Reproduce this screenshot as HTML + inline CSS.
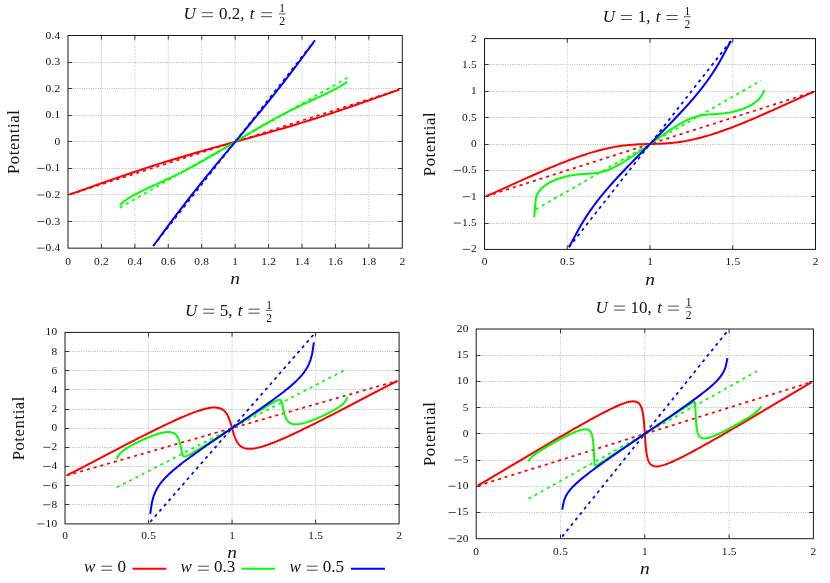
<!DOCTYPE html>
<html><head><meta charset="utf-8"><title>Potential vs n</title>
<style>html,body{margin:0;padding:0;background:#fff;width:830px;height:583px;overflow:hidden;font-family:"Liberation Serif",serif}svg{will-change:transform}svg text{font-family:"Liberation Serif",serif}</style>
</head><body>
<svg width="830" height="583" viewBox="0 0 830 583" style="display:block;position:absolute;left:0;top:0">
<rect width="830" height="583" fill="#fff"/>
<g>
<path d="M68.00 62.50H402.30M68.00 88.50H402.30M68.00 115.50H402.30M68.00 141.50H402.30M68.00 168.50H402.30M68.00 194.50H402.30M68.00 221.50H402.30" stroke="#b0b0b0" stroke-width="0.9" stroke-dasharray="1 1.3" fill="none"/>
<path d="M101.43 35.50V248.15M134.86 35.50V248.15M168.29 35.50V248.15M201.72 35.50V248.15M235.15 35.50V248.15M268.58 35.50V248.15M302.01 35.50V248.15M335.44 35.50V248.15M368.87 35.50V248.15" stroke="#bcbcbc" stroke-width="0.9" stroke-dasharray="1 1.3" fill="none"/>
<path d="M68.00 62.50h4.2M402.30 62.50h-4.2M68.00 88.50h4.2M402.30 88.50h-4.2M68.00 115.50h4.2M402.30 115.50h-4.2M68.00 141.50h4.2M402.30 141.50h-4.2M68.00 168.50h4.2M402.30 168.50h-4.2M68.00 194.50h4.2M402.30 194.50h-4.2M68.00 221.50h4.2M402.30 221.50h-4.2M101.43 35.50v4.2M101.43 248.15v-4.2M134.86 35.50v4.2M134.86 248.15v-4.2M168.29 35.50v4.2M168.29 248.15v-4.2M201.72 35.50v4.2M201.72 248.15v-4.2M235.15 35.50v4.2M235.15 248.15v-4.2M268.58 35.50v4.2M268.58 248.15v-4.2M302.01 35.50v4.2M302.01 248.15v-4.2M335.44 35.50v4.2M335.44 248.15v-4.2M368.87 35.50v4.2M368.87 248.15v-4.2" stroke="#222" stroke-width="0.9" fill="none"/>
<clipPath id="c1"><rect x="68.00" y="34.50" width="334.30" height="214.65"/></clipPath>
<g clip-path="url(#c1)" fill="none" stroke-linejoin="round">
<path d="M69.67 194.46L400.29 89.30" stroke="#ff0000" stroke-width="1.75" stroke-dasharray="3.1 3.9"/>
<path d="M119.82 207.70L347.47 77.67" stroke="#00ff00" stroke-width="1.75" stroke-dasharray="3.1 3.9"/>
<path d="M153.25 246.02L315.05 40.18" stroke="#0000ff" stroke-width="1.75" stroke-dasharray="3.1 3.9"/>
<path d="M69.67 194.44L71.34 193.88L73.01 193.30L74.69 192.73L76.36 192.15L78.03 191.57L79.70 190.98L81.37 190.39L83.04 189.80L84.72 189.21L86.39 188.62L88.06 188.03L89.73 187.44L91.40 186.84L93.07 186.25L94.74 185.66L96.42 185.06L98.09 184.47L99.76 183.88L101.43 183.29L103.10 182.70L104.77 182.11L106.44 181.52L108.12 180.93L109.79 180.35L111.46 179.76L113.13 179.18L114.80 178.60L116.47 178.02L118.15 177.44L119.82 176.86L121.49 176.29L123.16 175.71L124.83 175.14L126.50 174.57L128.17 174.00L129.85 173.44L131.52 172.87L133.19 172.31L134.86 171.75L136.53 171.19L138.20 170.63L139.87 170.08L141.55 169.53L143.22 168.98L144.89 168.43L146.56 167.88L148.23 167.34L149.90 166.80L151.57 166.26L153.25 165.72L154.92 165.19L156.59 164.66L158.26 164.13L159.93 163.60L161.60 163.08L163.28 162.55L164.95 162.03L166.62 161.52L168.29 161.00L169.96 160.49L171.63 159.98L173.30 159.47L174.98 158.96L176.65 158.45L178.32 157.95L179.99 157.45L181.66 156.95L183.33 156.46L185.00 155.96L186.68 155.47L188.35 154.98L190.02 154.49L191.69 154.01L193.36 153.52L195.03 153.04L196.71 152.56L198.38 152.08L200.05 151.60L201.72 151.12L203.39 150.65L205.06 150.18L206.73 149.71L208.41 149.23L210.08 148.77L211.75 148.30L213.42 147.83L215.09 147.36L216.76 146.90L218.44 146.43L220.11 145.97L221.78 145.51L223.45 145.05L225.12 144.59L225.29 144.54L225.46 144.49L225.62 144.45L225.79 144.40L225.96 144.36L226.12 144.31L226.29 144.26L226.46 144.22L226.63 144.17L226.79 144.12L226.96 144.08L227.13 144.03L227.29 143.99L227.46 143.94L227.63 143.89L227.80 143.85L227.96 143.80L228.13 143.76L228.30 143.71L228.46 143.66L228.63 143.62L228.80 143.57L228.97 143.53L229.13 143.48L229.30 143.43L229.47 143.39L229.63 143.34L229.80 143.30L229.97 143.25L230.14 143.20L230.30 143.16L230.47 143.11L230.64 143.07L230.80 143.02L230.97 142.97L231.14 142.93L231.31 142.88L231.47 142.84L231.64 142.79L231.81 142.74L231.97 142.70L232.14 142.65L232.31 142.61L232.48 142.56L232.64 142.51L232.81 142.47L232.98 142.42L233.14 142.38L233.31 142.33L233.48 142.28L233.65 142.24L233.81 142.19L233.98 142.15L234.15 142.10L234.31 142.05L234.48 142.01L234.65 141.96L234.82 141.92L234.98 141.87L235.15 141.83L235.32 141.78L235.48 141.73L235.65 141.69L235.82 141.64L235.99 141.60L236.15 141.55L236.32 141.50L236.49 141.46L236.65 141.41L236.82 141.37L236.99 141.32L237.16 141.27L237.32 141.23L237.49 141.18L237.66 141.14L237.82 141.09L237.99 141.04L238.16 141.00L238.33 140.95L238.49 140.91L238.66 140.86L238.83 140.81L238.99 140.77L239.16 140.72L239.33 140.68L239.50 140.63L239.66 140.58L239.83 140.54L240.00 140.49L240.16 140.45L240.33 140.40L240.50 140.35L240.67 140.31L240.83 140.26L241.00 140.22L241.17 140.17L241.33 140.12L241.50 140.08L241.67 140.03L241.84 139.99L242.00 139.94L242.17 139.89L242.34 139.85L242.50 139.80L242.67 139.76L242.84 139.71L243.01 139.66L243.17 139.62L243.34 139.57L243.51 139.53L243.67 139.48L243.84 139.43L244.01 139.39L244.18 139.34L244.34 139.29L244.51 139.25L244.68 139.20L244.84 139.16L245.01 139.11L245.18 139.06L246.85 138.60L248.52 138.14L250.19 137.68L251.87 137.22L253.54 136.75L255.21 136.29L256.88 135.82L258.55 135.35L260.22 134.88L261.89 134.42L263.57 133.94L265.24 133.47L266.91 133.00L268.58 132.53L270.25 132.05L271.92 131.57L273.59 131.09L275.27 130.61L276.94 130.13L278.61 129.64L280.28 129.16L281.95 128.67L283.62 128.18L285.30 127.69L286.97 127.19L288.64 126.70L290.31 126.20L291.98 125.70L293.65 125.20L295.32 124.69L297.00 124.18L298.67 123.67L300.34 123.16L302.01 122.65L303.68 122.13L305.35 121.62L307.02 121.10L308.70 120.57L310.37 120.05L312.04 119.52L313.71 118.99L315.38 118.46L317.05 117.93L318.73 117.39L320.40 116.85L322.07 116.31L323.74 115.77L325.41 115.22L327.08 114.67L328.75 114.12L330.43 113.57L332.10 113.02L333.77 112.46L335.44 111.90L337.11 111.34L338.78 110.78L340.45 110.21L342.13 109.65L343.80 109.08L345.47 108.51L347.14 107.94L348.81 107.36L350.48 106.79L352.16 106.21L353.83 105.63L355.50 105.05L357.17 104.47L358.84 103.89L360.51 103.30L362.18 102.72L363.86 102.13L365.53 101.54L367.20 100.95L368.87 100.36L370.54 99.77L372.21 99.18L373.88 98.59L375.56 97.99L377.23 97.40L378.90 96.81L380.57 96.21L382.24 95.62L383.91 95.03L385.58 94.44L387.26 93.85L388.93 93.26L390.60 92.67L392.27 92.08L393.94 91.50L395.61 90.92L397.29 90.35L398.96 89.77" stroke="#ff0000" stroke-width="2"/>
<path d="M119.82 205.24L121.49 203.46L123.16 202.00L124.83 200.71L126.50 199.53L128.17 198.44L129.85 197.41L131.52 196.43L133.19 195.49L134.86 194.58L136.53 193.70L138.20 192.84L139.87 192.01L141.55 191.19L143.22 190.38L144.89 189.58L146.56 188.80L148.23 188.01L149.90 187.24L151.57 186.47L153.25 185.70L154.92 184.93L156.59 184.17L158.26 183.40L159.93 182.63L161.60 181.86L163.28 181.09L164.95 180.31L166.62 179.53L168.29 178.74L169.96 177.95L171.63 177.15L173.30 176.35L174.98 175.54L175.14 175.46L175.31 175.37L175.48 175.29L175.64 175.21L175.81 175.13L175.98 175.05L176.15 174.97L176.31 174.88L176.48 174.80L176.65 174.72L176.81 174.64L176.98 174.55L177.15 174.47L177.32 174.39L177.48 174.31L177.65 174.22L177.82 174.14L177.98 174.06L178.15 173.98L178.32 173.89L178.49 173.81L178.65 173.73L178.82 173.65L178.99 173.56L179.15 173.48L179.32 173.40L179.49 173.31L179.66 173.23L179.82 173.15L179.99 173.06L180.16 172.98L180.32 172.89L180.49 172.81L180.66 172.73L180.83 172.64L180.99 172.56L181.16 172.47L181.33 172.39L181.49 172.31L181.66 172.22L181.83 172.14L182.00 172.05L182.16 171.97L182.33 171.88L182.50 171.80L182.66 171.71L182.83 171.63L183.00 171.54L183.17 171.46L183.33 171.37L183.50 171.29L183.67 171.20L183.83 171.12L184.00 171.03L184.17 170.95L184.34 170.86L184.50 170.78L184.67 170.69L184.84 170.60L185.00 170.52L185.17 170.43L185.34 170.35L185.51 170.26L185.67 170.17L185.84 170.09L186.01 170.00L186.18 169.91L186.34 169.83L186.51 169.74L186.68 169.65L186.84 169.57L187.01 169.48L187.18 169.39L187.35 169.31L187.51 169.22L187.68 169.13L187.85 169.05L188.01 168.96L188.18 168.87L188.35 168.78L188.52 168.70L188.68 168.61L188.85 168.52L189.02 168.43L189.18 168.34L189.35 168.26L189.52 168.17L189.69 168.08L189.85 167.99L190.02 167.90L190.19 167.81L190.35 167.73L190.52 167.64L190.69 167.55L190.86 167.46L191.02 167.37L191.19 167.28L191.36 167.19L191.52 167.10L191.69 167.02L191.86 166.93L192.03 166.84L192.19 166.75L192.36 166.66L192.53 166.57L192.69 166.48L192.86 166.39L193.03 166.30L193.20 166.21L193.36 166.12L193.53 166.03L193.70 165.94L193.86 165.85L194.03 165.76L194.20 165.67L194.37 165.58L194.53 165.49L194.70 165.40L194.87 165.31L195.03 165.22L196.71 164.31L198.38 163.39L200.05 162.46L201.72 161.53L203.39 160.59L205.06 159.64L206.73 158.69L208.41 157.73L210.08 156.77L211.75 155.80L213.42 154.82L215.09 153.84L216.76 152.86L218.44 151.87L220.11 150.87L221.78 149.88L223.45 148.88L225.12 147.88L226.79 146.87L228.46 145.86L230.14 144.86L231.81 143.85L233.48 142.84L235.15 141.83L236.82 140.81L238.49 139.80L240.16 138.79L241.84 137.79L243.51 136.78L245.18 135.77L246.85 134.77L248.52 133.77L250.19 132.78L251.87 131.78L253.54 130.79L255.21 129.81L256.88 128.83L258.55 127.85L260.22 126.88L261.89 125.92L263.57 124.96L265.24 124.01L266.91 123.06L268.58 122.12L270.25 121.19L271.92 120.26L273.59 119.34L275.27 118.43L275.43 118.34L275.60 118.25L275.77 118.16L275.93 118.07L276.10 117.98L276.27 117.89L276.44 117.80L276.60 117.71L276.77 117.62L276.94 117.53L277.10 117.44L277.27 117.35L277.44 117.26L277.61 117.17L277.77 117.08L277.94 116.99L278.11 116.90L278.27 116.81L278.44 116.72L278.61 116.63L278.78 116.55L278.94 116.46L279.11 116.37L279.28 116.28L279.44 116.19L279.61 116.10L279.78 116.01L279.95 115.92L280.11 115.84L280.28 115.75L280.45 115.66L280.61 115.57L280.78 115.48L280.95 115.39L281.12 115.31L281.28 115.22L281.45 115.13L281.62 115.04L281.78 114.95L281.95 114.87L282.12 114.78L282.29 114.69L282.45 114.60L282.62 114.52L282.79 114.43L282.95 114.34L283.12 114.26L283.29 114.17L283.46 114.08L283.62 114.00L283.79 113.91L283.96 113.82L284.12 113.74L284.29 113.65L284.46 113.56L284.63 113.48L284.79 113.39L284.96 113.30L285.13 113.22L285.30 113.13L285.46 113.05L285.63 112.96L285.80 112.87L285.96 112.79L286.13 112.70L286.30 112.62L286.47 112.53L286.63 112.45L286.80 112.36L286.97 112.28L287.13 112.19L287.30 112.11L287.47 112.02L287.64 111.94L287.80 111.85L287.97 111.77L288.14 111.68L288.30 111.60L288.47 111.51L288.64 111.43L288.81 111.34L288.97 111.26L289.14 111.18L289.31 111.09L289.47 111.01L289.64 110.92L289.81 110.84L289.98 110.76L290.14 110.67L290.31 110.59L290.48 110.50L290.64 110.42L290.81 110.34L290.98 110.25L291.15 110.17L291.31 110.09L291.48 110.00L291.65 109.92L291.81 109.84L291.98 109.76L292.15 109.67L292.32 109.59L292.48 109.51L292.65 109.43L292.82 109.34L292.98 109.26L293.15 109.18L293.32 109.10L293.49 109.01L293.65 108.93L293.82 108.85L293.99 108.77L294.15 108.68L294.32 108.60L294.49 108.52L294.66 108.44L294.82 108.36L294.99 108.28L295.16 108.19L295.32 108.11L297.00 107.30L298.67 106.50L300.34 105.70L302.01 104.91L303.68 104.12L305.35 103.34L307.02 102.56L308.70 101.79L310.37 101.02L312.04 100.25L313.71 99.48L315.38 98.72L317.05 97.95L318.73 97.18L320.40 96.41L322.07 95.64L323.74 94.85L325.41 94.07L327.08 93.27L328.75 92.46L330.43 91.64L332.10 90.81L333.77 89.95L335.44 89.07L337.11 88.16L338.78 87.22L340.45 86.24L342.13 85.21L343.80 84.12L345.47 82.94L347.14 81.65" stroke="#00ff00" stroke-width="2"/>
<path d="M153.25 245.97L154.92 243.75L156.59 241.50L158.26 239.25L159.93 236.98L161.60 234.71L163.28 232.44L164.95 230.17L166.62 227.91L168.29 225.65L169.96 223.40L171.63 221.15L173.30 218.91L174.98 216.69L176.65 214.47L178.32 212.26L179.99 210.06L181.66 207.88L183.33 205.70L185.00 203.53L186.68 201.38L188.35 199.23L190.02 197.09L191.69 194.96L193.36 192.84L195.03 190.73L196.71 188.63L198.38 186.54L200.05 184.45L201.72 182.37L203.39 180.30L205.06 178.24L206.73 176.18L208.41 174.13L210.08 172.08L211.75 170.04L213.42 168.00L215.09 165.97L216.76 163.94L218.44 161.92L220.11 159.90L221.78 157.89L223.45 155.87L225.12 153.86L226.79 151.85L228.46 149.84L230.14 147.84L231.81 145.83L233.48 143.83L235.15 141.83L236.82 139.82L238.49 137.82L240.16 135.81L241.84 133.81L243.51 131.80L245.18 129.79L246.85 127.78L248.52 125.76L250.19 123.75L251.87 121.73L253.54 119.71L255.21 117.68L256.88 115.65L258.55 113.61L260.22 111.57L261.89 109.52L263.57 107.47L265.24 105.41L266.91 103.35L268.58 101.28L270.25 99.20L271.92 97.11L273.59 95.02L275.27 92.92L276.94 90.81L278.61 88.69L280.28 86.56L281.95 84.42L283.62 82.27L285.30 80.12L286.97 77.95L288.64 75.77L290.31 73.59L291.98 71.39L293.65 69.18L295.32 66.96L297.00 64.74L298.67 62.50L300.34 60.25L302.01 58.00L303.68 55.74L305.35 53.48L307.02 51.21L308.70 48.94L310.37 46.67L312.04 44.40L313.71 42.15" stroke="#0000ff" stroke-width="2"/>
</g>
<rect x="68.00" y="35.50" width="334.30" height="212.65" fill="none" stroke="#1a1a1a" stroke-width="1"/>
<text x="60.45" y="38.50" font-size="11.4" letter-spacing="0.25" text-anchor="end" fill="#111">0.4</text>
<text x="60.45" y="65.08" font-size="11.4" letter-spacing="0.25" text-anchor="end" fill="#111">0.3</text>
<text x="60.45" y="91.66" font-size="11.4" letter-spacing="0.25" text-anchor="end" fill="#111">0.2</text>
<text x="60.45" y="118.24" font-size="11.4" letter-spacing="0.25" text-anchor="end" fill="#111">0.1</text>
<text x="60.45" y="144.82" font-size="11.4" letter-spacing="0.25" text-anchor="end" fill="#111">0</text>
<text x="60.45" y="171.41" font-size="11.4" letter-spacing="0.25" text-anchor="end" fill="#111">0.1</text>
<path d="M44.45 168.41h-7.2" stroke="#222" stroke-width="0.8" fill="none"/>
<text x="60.45" y="197.99" font-size="11.4" letter-spacing="0.25" text-anchor="end" fill="#111">0.2</text>
<path d="M44.45 194.99h-7.2" stroke="#222" stroke-width="0.8" fill="none"/>
<text x="60.45" y="224.57" font-size="11.4" letter-spacing="0.25" text-anchor="end" fill="#111">0.3</text>
<path d="M44.45 221.57h-7.2" stroke="#222" stroke-width="0.8" fill="none"/>
<text x="60.45" y="251.15" font-size="11.4" letter-spacing="0.25" text-anchor="end" fill="#111">0.4</text>
<path d="M44.45 248.15h-7.2" stroke="#222" stroke-width="0.8" fill="none"/>
<text x="68.12" y="264.75" font-size="11.4" letter-spacing="0.25" text-anchor="middle" fill="#111">0</text>
<text x="101.56" y="264.75" font-size="11.4" letter-spacing="0.25" text-anchor="middle" fill="#111">0.2</text>
<text x="134.99" y="264.75" font-size="11.4" letter-spacing="0.25" text-anchor="middle" fill="#111">0.4</text>
<text x="168.42" y="264.75" font-size="11.4" letter-spacing="0.25" text-anchor="middle" fill="#111">0.6</text>
<text x="201.84" y="264.75" font-size="11.4" letter-spacing="0.25" text-anchor="middle" fill="#111">0.8</text>
<text x="235.28" y="264.75" font-size="11.4" letter-spacing="0.25" text-anchor="middle" fill="#111">1</text>
<text x="268.71" y="264.75" font-size="11.4" letter-spacing="0.25" text-anchor="middle" fill="#111">1.2</text>
<text x="302.13" y="264.75" font-size="11.4" letter-spacing="0.25" text-anchor="middle" fill="#111">1.4</text>
<text x="335.56" y="264.75" font-size="11.4" letter-spacing="0.25" text-anchor="middle" fill="#111">1.6</text>
<text x="369.00" y="264.75" font-size="11.4" letter-spacing="0.25" text-anchor="middle" fill="#111">1.8</text>
<text x="402.43" y="264.75" font-size="11.4" letter-spacing="0.25" text-anchor="middle" fill="#111">2</text>
<text transform="translate(235.15 283.55) scale(1.16 1)" font-size="16.8" font-style="italic" text-anchor="middle" fill="#111">n</text>
<text transform="translate(18.60 141.82) rotate(-90)" font-size="16.6" text-anchor="middle" fill="#111" letter-spacing="0.6">Potential</text>
<text x="183.50" y="19.20" font-size="17" font-style="italic" fill="#111">U</text>
<path d="M201.90 12.70h11M201.90 16.70h11" stroke="#222" stroke-width="0.8" fill="none"/>
<text x="219.00" y="19.20" font-size="17" fill="#111">0.2,</text>
<text x="249.80" y="19.20" font-size="17" font-style="italic" fill="#111">t</text>
<path d="M261.10 12.70h11M261.10 16.70h11" stroke="#222" stroke-width="0.8" fill="none"/>
<text x="282.20" y="12.30" font-size="11.5" text-anchor="middle" fill="#111">1</text>
<text x="282.20" y="25.20" font-size="11.5" text-anchor="middle" fill="#111">2</text>
<path d="M278.90 13.90h6.6" stroke="#111" stroke-width="0.7"/>
</g>
<g>
<path d="M484.50 64.50H815.50M484.50 91.50H815.50M484.50 117.50H815.50M484.50 144.50H815.50M484.50 170.50H815.50M484.50 196.50H815.50M484.50 223.50H815.50" stroke="#b0b0b0" stroke-width="0.9" stroke-dasharray="1 1.3" fill="none"/>
<path d="M567.25 38.60V249.40M650.00 38.60V249.40M732.75 38.60V249.40" stroke="#bcbcbc" stroke-width="0.9" stroke-dasharray="1 1.3" fill="none"/>
<path d="M484.50 64.50h4.2M815.50 64.50h-4.2M484.50 91.50h4.2M815.50 91.50h-4.2M484.50 117.50h4.2M815.50 117.50h-4.2M484.50 144.50h4.2M815.50 144.50h-4.2M484.50 170.50h4.2M815.50 170.50h-4.2M484.50 196.50h4.2M815.50 196.50h-4.2M484.50 223.50h4.2M815.50 223.50h-4.2M567.25 38.60v4.2M567.25 249.40v-4.2M650.00 38.60v4.2M650.00 249.40v-4.2M732.75 38.60v4.2M732.75 249.40v-4.2" stroke="#222" stroke-width="0.9" fill="none"/>
<clipPath id="c2"><rect x="484.50" y="37.60" width="331.00" height="212.80"/></clipPath>
<g clip-path="url(#c2)" fill="none" stroke-linejoin="round">
<path d="M486.15 196.17L813.85 91.83" stroke="#ff0000" stroke-width="1.75" stroke-dasharray="3.1 3.9"/>
<path d="M535.80 209.30L761.22 80.40" stroke="#00ff00" stroke-width="1.75" stroke-dasharray="3.1 3.9"/>
<path d="M568.90 247.29L731.10 40.71" stroke="#0000ff" stroke-width="1.75" stroke-dasharray="3.1 3.9"/>
<path d="M486.15 196.09L487.81 195.44L489.46 194.76L491.12 194.06L492.77 193.35L494.43 192.63L496.08 191.90L497.74 191.17L499.39 190.43L501.05 189.69L502.70 188.95L504.36 188.20L506.01 187.45L507.67 186.70L509.32 185.95L510.98 185.20L512.63 184.44L514.29 183.69L515.95 182.94L517.60 182.19L519.25 181.43L520.91 180.68L522.57 179.94L524.22 179.19L525.88 178.44L527.53 177.70L529.18 176.96L530.84 176.22L532.50 175.48L534.15 174.75L535.80 174.02L537.46 173.29L539.12 172.56L540.77 171.84L542.42 171.13L544.08 170.41L545.74 169.70L547.39 169.00L549.04 168.29L550.70 167.60L552.36 166.91L554.01 166.22L555.66 165.54L557.32 164.86L558.98 164.19L560.63 163.53L562.28 162.87L563.94 162.22L565.60 161.57L567.25 160.93L568.90 160.30L570.56 159.68L572.22 159.06L573.87 158.46L575.52 157.86L577.18 157.27L578.84 156.68L580.49 156.11L582.14 155.55L583.80 154.99L585.46 154.45L587.11 153.92L588.76 153.40L590.42 152.89L592.08 152.39L593.73 151.90L595.38 151.43L597.04 150.96L598.69 150.51L600.35 150.08L602.00 149.66L603.66 149.25L605.32 148.86L606.97 148.48L608.62 148.12L610.28 147.77L611.93 147.44L613.59 147.13L615.25 146.83L616.90 146.55L618.56 146.29L620.21 146.04L621.87 145.81L623.52 145.59L625.17 145.40L626.83 145.21L628.49 145.05L630.14 144.90L631.80 144.76L633.45 144.64L635.11 144.54L636.76 144.44L638.41 144.36L640.07 144.29L640.24 144.28L640.40 144.28L640.57 144.27L640.73 144.26L640.90 144.26L641.06 144.25L641.23 144.24L641.39 144.24L641.56 144.23L641.73 144.23L641.89 144.22L642.06 144.21L642.22 144.21L642.39 144.20L642.55 144.20L642.72 144.19L642.88 144.19L643.05 144.18L643.21 144.18L643.38 144.17L643.55 144.17L643.71 144.16L643.88 144.16L644.04 144.15L644.21 144.15L644.37 144.14L644.54 144.14L644.70 144.13L644.87 144.13L645.03 144.12L645.20 144.12L645.37 144.11L645.53 144.11L645.70 144.10L645.86 144.10L646.03 144.10L646.19 144.09L646.36 144.09L646.52 144.08L646.69 144.08L646.86 144.07L647.02 144.07L647.19 144.07L647.35 144.06L647.52 144.06L647.68 144.05L647.85 144.05L648.01 144.05L648.18 144.04L648.35 144.04L648.51 144.03L648.68 144.03L648.84 144.03L649.01 144.02L649.17 144.02L649.34 144.02L649.50 144.01L649.67 144.01L649.83 144.00L650.00 144.00L650.17 144.00L650.33 143.99L650.50 143.99L650.66 143.98L650.83 143.98L650.99 143.98L651.16 143.97L651.32 143.97L651.49 143.97L651.65 143.96L651.82 143.96L651.99 143.95L652.15 143.95L652.32 143.95L652.48 143.94L652.65 143.94L652.81 143.93L652.98 143.93L653.14 143.93L653.31 143.92L653.48 143.92L653.64 143.91L653.81 143.91L653.97 143.90L654.14 143.90L654.30 143.90L654.47 143.89L654.63 143.89L654.80 143.88L654.97 143.88L655.13 143.87L655.30 143.87L655.46 143.86L655.63 143.86L655.79 143.85L655.96 143.85L656.12 143.84L656.29 143.84L656.45 143.83L656.62 143.83L656.79 143.82L656.95 143.82L657.12 143.81L657.28 143.81L657.45 143.80L657.61 143.80L657.78 143.79L657.94 143.79L658.11 143.78L658.27 143.77L658.44 143.77L658.61 143.76L658.77 143.76L658.94 143.75L659.10 143.74L659.27 143.74L659.43 143.73L659.60 143.72L659.76 143.72L659.93 143.71L661.59 143.64L663.24 143.56L664.89 143.46L666.55 143.36L668.21 143.24L669.86 143.10L671.51 142.95L673.17 142.79L674.83 142.60L676.48 142.41L678.13 142.19L679.79 141.96L681.44 141.71L683.10 141.45L684.75 141.17L686.41 140.87L688.07 140.56L689.72 140.23L691.38 139.88L693.03 139.52L694.68 139.14L696.34 138.75L698.00 138.34L699.65 137.92L701.31 137.49L702.96 137.04L704.62 136.57L706.27 136.10L707.92 135.61L709.58 135.11L711.24 134.60L712.89 134.08L714.54 133.55L716.20 133.01L717.86 132.45L719.51 131.89L721.16 131.32L722.82 130.73L724.48 130.14L726.13 129.54L727.78 128.94L729.44 128.32L731.10 127.70L732.75 127.07L734.40 126.43L736.06 125.78L737.72 125.13L739.37 124.47L741.03 123.81L742.68 123.14L744.34 122.46L745.99 121.78L747.64 121.09L749.30 120.40L750.96 119.71L752.61 119.00L754.26 118.30L755.92 117.59L757.58 116.87L759.23 116.16L760.88 115.44L762.54 114.71L764.19 113.98L765.85 113.25L767.50 112.52L769.16 111.78L770.82 111.04L772.47 110.30L774.12 109.56L775.78 108.81L777.43 108.06L779.09 107.32L780.75 106.57L782.40 105.81L784.06 105.06L785.71 104.31L787.37 103.56L789.02 102.80L790.67 102.05L792.33 101.30L793.99 100.55L795.64 99.80L797.29 99.05L798.95 98.31L800.61 97.57L802.26 96.83L803.91 96.10L805.57 95.37L807.22 94.65L808.88 93.94L810.53 93.24L812.19 92.56L813.85 91.91" stroke="#ff0000" stroke-width="2"/>
<path d="M534.20 217.25L535.80 198.11L537.46 194.06L539.12 191.34L540.77 189.28L542.42 187.60L544.08 186.18L545.74 184.95L547.39 183.86L549.04 182.88L550.70 181.99L552.36 181.18L554.01 180.44L555.66 179.75L557.32 179.11L558.98 178.53L560.63 177.98L562.28 177.48L563.94 177.02L565.60 176.59L567.25 176.21L568.90 175.85L570.56 175.53L572.22 175.25L573.87 174.99L575.52 174.76L577.18 174.57L578.84 174.39L580.49 174.24L582.14 174.11L583.80 173.99L585.46 173.88L587.11 173.78L588.76 173.67L590.42 173.55L590.59 173.54L590.75 173.53L590.92 173.51L591.08 173.50L591.25 173.49L591.41 173.47L591.58 173.46L591.74 173.45L591.91 173.43L592.08 173.42L592.24 173.40L592.41 173.39L592.57 173.37L592.74 173.36L592.90 173.34L593.07 173.33L593.23 173.31L593.40 173.29L593.56 173.28L593.73 173.26L593.90 173.24L594.06 173.22L594.23 173.20L594.39 173.19L594.56 173.17L594.72 173.15L594.89 173.13L595.05 173.11L595.22 173.09L595.38 173.07L595.55 173.04L595.72 173.02L595.88 173.00L596.05 172.98L596.21 172.96L596.38 172.93L596.54 172.91L596.71 172.88L596.87 172.86L597.04 172.83L597.21 172.81L597.37 172.78L597.54 172.76L597.70 172.73L597.87 172.70L598.03 172.67L598.20 172.64L598.36 172.61L598.53 172.59L598.69 172.56L598.86 172.52L599.03 172.49L599.19 172.46L599.36 172.43L599.52 172.40L599.69 172.36L599.85 172.33L600.02 172.30L600.18 172.26L600.35 172.22L600.52 172.19L600.68 172.15L600.85 172.12L601.01 172.08L601.18 172.04L601.34 172.00L601.51 171.96L601.67 171.92L601.84 171.88L602.00 171.84L602.17 171.80L602.34 171.76L602.50 171.71L602.67 171.67L602.83 171.62L603.00 171.58L603.16 171.53L603.33 171.49L603.49 171.44L603.66 171.40L603.83 171.35L603.99 171.30L604.16 171.25L604.32 171.20L604.49 171.15L604.65 171.10L604.82 171.05L604.98 171.00L605.15 170.95L605.32 170.89L605.48 170.84L605.65 170.78L605.81 170.73L605.98 170.67L606.14 170.62L606.31 170.56L606.47 170.51L606.64 170.45L606.80 170.39L606.97 170.33L607.14 170.27L607.30 170.21L607.47 170.15L607.63 170.09L607.80 170.03L607.96 169.97L608.13 169.90L608.29 169.84L608.46 169.78L608.62 169.71L608.79 169.65L608.96 169.58L609.12 169.51L609.29 169.45L609.45 169.38L609.62 169.31L609.78 169.24L609.95 169.18L610.11 169.11L610.28 169.04L611.93 168.31L613.59 167.53L615.25 166.71L616.90 165.85L618.56 164.95L620.21 164.01L621.87 163.04L623.52 162.04L625.17 161.02L626.83 159.97L628.49 158.91L630.14 157.82L631.80 156.72L633.45 155.60L635.11 154.48L636.76 153.34L638.41 152.19L640.07 151.03L641.73 149.87L643.38 148.70L645.03 147.53L646.69 146.36L648.35 145.18L650.00 144.00L651.65 142.82L653.31 141.64L654.97 140.47L656.62 139.30L658.27 138.13L659.93 136.97L661.59 135.81L663.24 134.66L664.89 133.52L666.55 132.40L668.21 131.28L669.86 130.18L671.51 129.09L673.17 128.03L674.83 126.98L676.48 125.96L678.13 124.96L679.79 123.99L681.44 123.05L683.10 122.15L684.75 121.29L686.41 120.47L688.07 119.69L689.72 118.96L689.89 118.89L690.05 118.82L690.22 118.76L690.38 118.69L690.55 118.62L690.71 118.55L690.88 118.49L691.04 118.42L691.21 118.35L691.38 118.29L691.54 118.22L691.71 118.16L691.87 118.10L692.04 118.03L692.20 117.97L692.37 117.91L692.53 117.85L692.70 117.79L692.86 117.73L693.03 117.67L693.20 117.61L693.36 117.55L693.53 117.49L693.69 117.44L693.86 117.38L694.02 117.33L694.19 117.27L694.35 117.22L694.52 117.16L694.68 117.11L694.85 117.05L695.02 117.00L695.18 116.95L695.35 116.90L695.51 116.85L695.68 116.80L695.84 116.75L696.01 116.70L696.17 116.65L696.34 116.60L696.51 116.56L696.67 116.51L696.84 116.47L697.00 116.42L697.17 116.38L697.33 116.33L697.50 116.29L697.66 116.24L697.83 116.20L698.00 116.16L698.16 116.12L698.33 116.08L698.49 116.04L698.66 116.00L698.82 115.96L698.99 115.92L699.15 115.88L699.32 115.85L699.48 115.81L699.65 115.78L699.82 115.74L699.98 115.70L700.15 115.67L700.31 115.64L700.48 115.60L700.64 115.57L700.81 115.54L700.97 115.51L701.14 115.48L701.31 115.44L701.47 115.41L701.64 115.39L701.80 115.36L701.97 115.33L702.13 115.30L702.30 115.27L702.46 115.24L702.63 115.22L702.79 115.19L702.96 115.17L703.13 115.14L703.29 115.12L703.46 115.09L703.62 115.07L703.79 115.04L703.95 115.02L704.12 115.00L704.28 114.98L704.45 114.96L704.62 114.93L704.78 114.91L704.95 114.89L705.11 114.87L705.28 114.85L705.44 114.83L705.61 114.81L705.77 114.80L705.94 114.78L706.10 114.76L706.27 114.74L706.44 114.72L706.60 114.71L706.77 114.69L706.93 114.67L707.10 114.66L707.26 114.64L707.43 114.63L707.59 114.61L707.76 114.60L707.92 114.58L708.09 114.57L708.26 114.55L708.42 114.54L708.59 114.53L708.75 114.51L708.92 114.50L709.08 114.49L709.25 114.47L709.41 114.46L709.58 114.45L711.24 114.33L712.89 114.22L714.54 114.12L716.20 114.01L717.86 113.89L719.51 113.76L721.16 113.61L722.82 113.43L724.48 113.24L726.13 113.01L727.78 112.75L729.44 112.47L731.10 112.15L732.75 111.79L734.40 111.41L736.06 110.98L737.72 110.52L739.37 110.02L741.03 109.47L742.68 108.89L744.34 108.25L745.99 107.56L747.64 106.82L749.30 106.01L750.96 105.12L752.61 104.14L754.26 103.05L755.92 101.82L757.58 100.40L759.23 98.72L760.88 96.66L762.54 93.94L764.19 89.89" stroke="#00ff00" stroke-width="2"/>
<path d="M568.90 246.96L570.56 244.21L572.22 241.25L573.87 238.19L575.52 235.10L577.18 232.04L578.84 229.03L580.49 226.10L582.14 223.27L583.80 220.52L585.46 217.87L587.11 215.30L588.76 212.81L590.42 210.40L592.08 208.05L593.73 205.77L595.38 203.55L597.04 201.37L598.69 199.24L600.35 197.16L602.00 195.12L603.66 193.11L605.32 191.14L606.97 189.19L608.62 187.28L610.28 185.38L611.93 183.52L613.59 181.67L615.25 179.85L616.90 178.04L618.56 176.25L620.21 174.47L621.87 172.71L623.52 170.96L625.17 169.22L626.83 167.50L628.49 165.78L630.14 164.07L631.80 162.37L633.45 160.68L635.11 158.99L636.76 157.31L638.41 155.64L640.07 153.97L641.73 152.30L643.38 150.64L645.03 148.98L646.69 147.32L648.35 145.66L650.00 144.00L651.65 142.34L653.31 140.68L654.97 139.02L656.62 137.36L658.27 135.70L659.93 134.03L661.59 132.36L663.24 130.69L664.89 129.01L666.55 127.32L668.21 125.63L669.86 123.93L671.51 122.22L673.17 120.50L674.83 118.78L676.48 117.04L678.13 115.29L679.79 113.53L681.44 111.75L683.10 109.96L684.75 108.15L686.41 106.33L688.07 104.48L689.72 102.62L691.38 100.72L693.03 98.81L694.68 96.86L696.34 94.89L698.00 92.88L699.65 90.84L701.31 88.76L702.96 86.63L704.62 84.45L706.27 82.23L707.92 79.95L709.58 77.60L711.24 75.19L712.89 72.70L714.54 70.13L716.20 67.48L717.86 64.73L719.51 61.90L721.16 58.97L722.82 55.96L724.48 52.90L726.13 49.81L727.78 46.75L729.44 43.79L731.10 41.04" stroke="#0000ff" stroke-width="2"/>
</g>
<rect x="484.50" y="38.60" width="331.00" height="210.80" fill="none" stroke="#1a1a1a" stroke-width="1"/>
<text x="476.95" y="41.60" font-size="11.4" letter-spacing="0.25" text-anchor="end" fill="#111">2</text>
<text x="476.95" y="67.95" font-size="11.4" letter-spacing="0.25" text-anchor="end" fill="#111">1.5</text>
<text x="476.95" y="94.30" font-size="11.4" letter-spacing="0.25" text-anchor="end" fill="#111">1</text>
<text x="476.95" y="120.65" font-size="11.4" letter-spacing="0.25" text-anchor="end" fill="#111">0.5</text>
<text x="476.95" y="147.00" font-size="11.4" letter-spacing="0.25" text-anchor="end" fill="#111">0</text>
<text x="476.95" y="173.35" font-size="11.4" letter-spacing="0.25" text-anchor="end" fill="#111">0.5</text>
<path d="M460.95 170.35h-7.2" stroke="#222" stroke-width="0.8" fill="none"/>
<text x="476.95" y="199.70" font-size="11.4" letter-spacing="0.25" text-anchor="end" fill="#111">1</text>
<path d="M470.00 196.70h-7.2" stroke="#222" stroke-width="0.8" fill="none"/>
<text x="476.95" y="226.05" font-size="11.4" letter-spacing="0.25" text-anchor="end" fill="#111">1.5</text>
<path d="M460.95 223.05h-7.2" stroke="#222" stroke-width="0.8" fill="none"/>
<text x="476.95" y="252.40" font-size="11.4" letter-spacing="0.25" text-anchor="end" fill="#111">2</text>
<path d="M470.00 249.40h-7.2" stroke="#222" stroke-width="0.8" fill="none"/>
<text x="484.62" y="265.20" font-size="11.4" letter-spacing="0.25" text-anchor="middle" fill="#111">0</text>
<text x="567.38" y="265.20" font-size="11.4" letter-spacing="0.25" text-anchor="middle" fill="#111">0.5</text>
<text x="650.12" y="265.20" font-size="11.4" letter-spacing="0.25" text-anchor="middle" fill="#111">1</text>
<text x="732.88" y="265.20" font-size="11.4" letter-spacing="0.25" text-anchor="middle" fill="#111">1.5</text>
<text x="815.62" y="265.20" font-size="11.4" letter-spacing="0.25" text-anchor="middle" fill="#111">2</text>
<text transform="translate(650.00 284.50) scale(1.16 1)" font-size="16.8" font-style="italic" text-anchor="middle" fill="#111">n</text>
<text transform="translate(435.10 144.00) rotate(-90)" font-size="16.6" text-anchor="middle" fill="#111" letter-spacing="0.6">Potential</text>
<text x="602.80" y="22.00" font-size="17" font-style="italic" fill="#111">U</text>
<path d="M620.80 15.50h11M620.80 19.50h11" stroke="#222" stroke-width="0.8" fill="none"/>
<text x="637.80" y="22.00" font-size="17" fill="#111">1,</text>
<text x="655.70" y="22.00" font-size="17" font-style="italic" fill="#111">t</text>
<path d="M666.60 15.50h11M666.60 19.50h11" stroke="#222" stroke-width="0.8" fill="none"/>
<text x="687.30" y="15.10" font-size="11.5" text-anchor="middle" fill="#111">1</text>
<text x="687.30" y="28.00" font-size="11.5" text-anchor="middle" fill="#111">2</text>
<path d="M684.00 16.70h6.6" stroke="#111" stroke-width="0.7"/>
</g>
<g>
<path d="M65.00 351.50H399.10M65.00 370.50H399.10M65.00 389.50H399.10M65.00 409.50H399.10M65.00 428.50H399.10M65.00 447.50H399.10M65.00 466.50H399.10M65.00 485.50H399.10M65.00 504.50H399.10" stroke="#b0b0b0" stroke-width="0.9" stroke-dasharray="1 1.3" fill="none"/>
<path d="M148.53 332.40V523.90M232.05 332.40V523.90M315.58 332.40V523.90" stroke="#bcbcbc" stroke-width="0.9" stroke-dasharray="1 1.3" fill="none"/>
<path d="M65.00 351.50h4.2M399.10 351.50h-4.2M65.00 370.50h4.2M399.10 370.50h-4.2M65.00 389.50h4.2M399.10 389.50h-4.2M65.00 409.50h4.2M399.10 409.50h-4.2M65.00 428.50h4.2M399.10 428.50h-4.2M65.00 447.50h4.2M399.10 447.50h-4.2M65.00 466.50h4.2M399.10 466.50h-4.2M65.00 485.50h4.2M399.10 485.50h-4.2M65.00 504.50h4.2M399.10 504.50h-4.2M148.53 332.40v4.2M148.53 523.90v-4.2M232.05 332.40v4.2M232.05 523.90v-4.2M315.58 332.40v4.2M315.58 523.90v-4.2" stroke="#222" stroke-width="0.9" fill="none"/>
<clipPath id="c3"><rect x="65.00" y="331.40" width="334.10" height="193.50"/></clipPath>
<g clip-path="url(#c3)" fill="none" stroke-linejoin="round">
<path d="M66.67 475.55L397.43 380.75" stroke="#ff0000" stroke-width="1.75" stroke-dasharray="3.1 3.9"/>
<path d="M116.79 487.48L344.31 370.37" stroke="#00ff00" stroke-width="1.75" stroke-dasharray="3.1 3.9"/>
<path d="M150.20 521.99L313.90 334.31" stroke="#0000ff" stroke-width="1.75" stroke-dasharray="3.1 3.9"/>
<path d="M66.67 475.32L68.34 474.53L70.01 473.72L71.68 472.89L73.35 472.05L75.02 471.20L76.69 470.35L78.36 469.49L80.03 468.63L81.70 467.77L83.38 466.90L85.05 466.03L86.72 465.16L88.39 464.29L90.06 463.42L91.73 462.54L93.40 461.67L95.07 460.79L96.74 459.92L98.41 459.04L100.08 458.17L101.75 457.29L103.42 456.42L105.09 455.54L106.76 454.67L108.43 453.80L110.10 452.92L111.77 452.05L113.44 451.18L115.12 450.31L116.79 449.43L118.46 448.56L120.13 447.70L121.80 446.83L123.47 445.96L125.14 445.09L126.81 444.23L128.48 443.37L130.15 442.50L131.82 441.64L133.49 440.79L135.16 439.93L136.83 439.07L138.50 438.22L140.17 437.37L141.84 436.52L143.51 435.67L145.18 434.83L146.85 433.99L148.53 433.15L150.20 432.31L151.87 431.48L153.54 430.65L155.21 429.82L156.88 429.00L158.55 428.18L160.22 427.37L161.89 426.55L163.56 425.75L165.23 424.95L166.90 424.15L168.57 423.36L170.24 422.57L171.91 421.80L173.58 421.02L175.25 420.26L176.92 419.50L178.59 418.75L180.26 418.01L181.94 417.28L183.61 416.56L185.28 415.85L186.95 415.16L188.62 414.47L190.29 413.81L191.96 413.16L193.63 412.52L195.30 411.91L196.97 411.32L198.64 410.75L200.31 410.21L201.98 409.70L203.65 409.23L205.32 408.79L206.99 408.41L208.66 408.07L210.33 407.80L212.00 407.61L213.67 407.50L215.35 407.50L217.02 407.64L218.69 407.94L220.36 408.45L222.03 409.24L222.19 409.34L222.36 409.44L222.53 409.54L222.70 409.65L222.86 409.77L223.03 409.88L223.20 410.01L223.36 410.13L223.53 410.26L223.70 410.40L223.86 410.54L224.03 410.69L224.20 410.84L224.37 411.00L224.53 411.16L224.70 411.33L224.87 411.51L225.03 411.69L225.20 411.88L225.37 412.07L225.54 412.28L225.70 412.49L225.87 412.70L226.04 412.93L226.20 413.16L226.37 413.41L226.54 413.66L226.70 413.92L226.87 414.19L227.04 414.46L227.21 414.75L227.37 415.05L227.54 415.36L227.71 415.68L227.87 416.01L228.04 416.36L228.21 416.71L228.37 417.08L228.54 417.46L228.71 417.85L228.88 418.25L229.04 418.67L229.21 419.10L229.38 419.54L229.54 420.00L229.71 420.47L229.88 420.95L230.05 421.45L230.21 421.96L230.38 422.48L230.55 423.01L230.71 423.55L230.88 424.10L231.05 424.66L231.21 425.23L231.38 425.81L231.55 426.39L231.72 426.97L231.88 427.56L232.05 428.15L232.22 428.74L232.38 429.33L232.55 429.91L232.72 430.49L232.89 431.07L233.05 431.64L233.22 432.20L233.39 432.75L233.55 433.29L233.72 433.82L233.89 434.34L234.05 434.85L234.22 435.35L234.39 435.83L234.56 436.30L234.72 436.76L234.89 437.20L235.06 437.63L235.22 438.05L235.39 438.45L235.56 438.84L235.73 439.22L235.89 439.59L236.06 439.94L236.23 440.29L236.39 440.62L236.56 440.94L236.73 441.25L236.89 441.55L237.06 441.84L237.23 442.11L237.40 442.38L237.56 442.64L237.73 442.89L237.90 443.14L238.06 443.37L238.23 443.60L238.40 443.81L238.56 444.02L238.73 444.23L238.90 444.42L239.07 444.61L239.23 444.79L239.40 444.97L239.57 445.14L239.73 445.30L239.90 445.46L240.07 445.61L240.24 445.76L240.40 445.90L240.57 446.04L240.74 446.17L240.90 446.29L241.07 446.42L241.24 446.53L241.40 446.65L241.57 446.76L241.74 446.86L241.91 446.96L242.07 447.06L243.74 447.85L245.41 448.36L247.08 448.66L248.76 448.80L250.43 448.80L252.10 448.69L253.77 448.50L255.44 448.23L257.11 447.89L258.78 447.51L260.45 447.07L262.12 446.60L263.79 446.09L265.46 445.55L267.13 444.98L268.80 444.39L270.47 443.78L272.14 443.14L273.81 442.49L275.48 441.83L277.15 441.14L278.82 440.45L280.49 439.74L282.17 439.02L283.84 438.29L285.51 437.55L287.18 436.80L288.85 436.04L290.52 435.28L292.19 434.50L293.86 433.73L295.53 432.94L297.20 432.15L298.87 431.35L300.54 430.55L302.21 429.75L303.88 428.93L305.55 428.12L307.22 427.30L308.89 426.48L310.56 425.65L312.23 424.82L313.90 423.99L315.58 423.15L317.25 422.31L318.92 421.47L320.59 420.63L322.26 419.78L323.93 418.93L325.60 418.08L327.27 417.23L328.94 416.37L330.61 415.51L332.28 414.66L333.95 413.80L335.62 412.93L337.29 412.07L338.96 411.21L340.63 410.34L342.30 409.47L343.97 408.60L345.64 407.74L347.31 406.87L348.99 405.99L350.66 405.12L352.33 404.25L354.00 403.38L355.67 402.50L357.34 401.63L359.01 400.76L360.68 399.88L362.35 399.01L364.02 398.13L365.69 397.26L367.36 396.38L369.03 395.51L370.70 394.63L372.37 393.76L374.04 392.88L375.71 392.01L377.38 391.14L379.05 390.27L380.72 389.40L382.39 388.53L384.07 387.67L385.74 386.81L387.41 385.95L389.08 385.10L390.75 384.25L392.42 383.41L394.09 382.58L395.76 381.77L397.43 380.98" stroke="#ff0000" stroke-width="2"/>
<path d="M116.79 459.20L118.46 455.52L120.13 453.38L121.80 451.78L123.47 450.44L125.14 449.26L126.81 448.17L128.48 447.15L130.15 446.18L131.82 445.25L133.49 444.35L135.16 443.48L136.83 442.64L138.50 441.81L140.17 441.01L141.84 440.23L143.51 439.46L145.18 438.72L146.85 438.00L148.53 437.29L150.20 436.62L151.87 435.96L153.54 435.34L155.21 434.75L156.88 434.19L158.55 433.68L160.22 433.21L161.89 432.80L163.56 432.45L165.23 432.19L166.90 432.02L168.57 431.99L170.24 432.12L171.91 432.47L172.08 432.52L172.25 432.57L172.41 432.63L172.58 432.69L172.75 432.75L172.91 432.82L173.08 432.89L173.25 432.96L173.42 433.04L173.58 433.13L173.75 433.21L173.92 433.31L174.08 433.40L174.25 433.51L174.42 433.61L174.58 433.73L174.75 433.85L174.92 433.97L175.09 434.11L175.25 434.24L175.42 434.39L175.59 434.54L175.75 434.70L175.92 434.87L176.09 435.05L176.26 435.24L176.42 435.43L176.59 435.64L176.76 435.85L176.92 436.08L177.09 436.32L177.26 436.57L177.42 436.84L177.59 437.12L177.76 437.41L177.93 437.72L178.09 438.05L178.26 438.40L178.43 438.76L178.59 439.15L178.76 439.55L178.93 439.98L179.10 440.44L179.26 440.92L179.43 441.42L179.60 441.96L179.76 442.53L179.93 443.13L180.10 443.76L180.26 444.43L180.43 445.13L180.60 445.86L180.77 446.63L180.93 447.42L181.10 448.24L181.27 449.08L181.43 449.93L181.60 450.76L181.77 451.58L181.94 452.35L182.10 453.07L182.27 453.71L182.44 454.27L182.60 454.74L182.77 455.14L182.94 455.46L183.10 455.72L183.27 455.93L183.44 456.10L183.61 456.23L183.77 456.33L183.94 456.40L184.11 456.46L184.27 456.49L184.44 456.51L184.61 456.52L184.77 456.52L184.94 456.51L185.11 456.49L185.28 456.46L185.44 456.42L185.61 456.39L185.78 456.34L185.94 456.29L186.11 456.24L186.28 456.18L186.45 456.12L186.61 456.06L186.78 455.99L186.95 455.93L187.11 455.86L187.28 455.78L187.45 455.71L187.61 455.63L187.78 455.56L187.95 455.48L188.12 455.40L188.28 455.32L188.45 455.23L188.62 455.15L188.78 455.07L188.95 454.98L189.12 454.89L189.29 454.81L189.45 454.72L189.62 454.63L189.79 454.54L189.95 454.45L190.12 454.36L190.29 454.26L190.45 454.17L190.62 454.08L190.79 453.99L190.96 453.89L191.12 453.80L191.29 453.70L191.46 453.61L191.62 453.51L191.79 453.42L191.96 453.32L193.63 452.34L195.30 451.34L196.97 450.32L198.64 449.29L200.31 448.25L201.98 447.21L203.65 446.16L205.32 445.11L206.99 444.06L208.66 443.00L210.33 441.95L212.00 440.89L213.67 439.83L215.35 438.77L217.02 437.71L218.69 436.65L220.36 435.59L222.03 434.52L223.70 433.46L225.37 432.40L227.04 431.34L228.71 430.27L230.38 429.21L232.05 428.15L233.72 427.09L235.39 426.03L237.06 424.96L238.73 423.90L240.40 422.84L242.07 421.78L243.74 420.71L245.41 419.65L247.08 418.59L248.76 417.53L250.43 416.47L252.10 415.41L253.77 414.35L255.44 413.30L257.11 412.24L258.78 411.19L260.45 410.14L262.12 409.09L263.79 408.05L265.46 407.01L267.13 405.98L268.80 404.96L270.47 403.96L272.14 402.98L272.31 402.88L272.48 402.79L272.64 402.69L272.81 402.60L272.98 402.50L273.14 402.41L273.31 402.31L273.48 402.22L273.65 402.13L273.81 402.04L273.98 401.94L274.15 401.85L274.31 401.76L274.48 401.67L274.65 401.58L274.81 401.49L274.98 401.41L275.15 401.32L275.32 401.23L275.48 401.15L275.65 401.07L275.82 400.98L275.98 400.90L276.15 400.82L276.32 400.74L276.49 400.67L276.65 400.59L276.82 400.52L276.99 400.44L277.15 400.37L277.32 400.31L277.49 400.24L277.65 400.18L277.82 400.12L277.99 400.06L278.16 400.01L278.32 399.96L278.49 399.91L278.66 399.88L278.82 399.84L278.99 399.81L279.16 399.79L279.33 399.78L279.49 399.78L279.66 399.79L279.83 399.81L279.99 399.84L280.16 399.90L280.33 399.97L280.49 400.07L280.66 400.20L280.83 400.37L281.00 400.58L281.16 400.84L281.33 401.16L281.50 401.56L281.66 402.03L281.83 402.59L282.00 403.23L282.17 403.95L282.33 404.72L282.50 405.54L282.67 406.37L282.83 407.22L283.00 408.06L283.17 408.88L283.33 409.67L283.50 410.44L283.67 411.17L283.84 411.87L284.00 412.54L284.17 413.17L284.34 413.77L284.50 414.34L284.67 414.88L284.84 415.38L285.00 415.86L285.17 416.32L285.34 416.75L285.51 417.15L285.67 417.54L285.84 417.90L286.01 418.25L286.17 418.58L286.34 418.89L286.51 419.18L286.68 419.46L286.84 419.73L287.01 419.98L287.18 420.22L287.34 420.45L287.51 420.66L287.68 420.87L287.84 421.06L288.01 421.25L288.18 421.43L288.35 421.60L288.51 421.76L288.68 421.91L288.85 422.06L289.01 422.19L289.18 422.33L289.35 422.45L289.52 422.57L289.68 422.69L289.85 422.79L290.02 422.90L290.18 422.99L290.35 423.09L290.52 423.17L290.68 423.26L290.85 423.34L291.02 423.41L291.19 423.48L291.35 423.55L291.52 423.61L291.69 423.67L291.85 423.73L292.02 423.78L292.19 423.83L293.86 424.18L295.53 424.31L297.20 424.28L298.87 424.11L300.54 423.85L302.21 423.50L303.88 423.09L305.55 422.62L307.22 422.11L308.89 421.55L310.56 420.96L312.23 420.34L313.90 419.68L315.58 419.01L317.25 418.30L318.92 417.58L320.59 416.84L322.26 416.07L323.93 415.29L325.60 414.49L327.27 413.66L328.94 412.82L330.61 411.95L332.28 411.05L333.95 410.12L335.62 409.15L337.29 408.13L338.96 407.04L340.63 405.86L342.30 404.52L343.97 402.92L345.64 400.78L347.31 397.10" stroke="#00ff00" stroke-width="2"/>
<path d="M150.20 514.02L151.87 502.79L153.54 496.49L155.21 492.18L156.88 488.87L158.55 486.13L160.22 483.76L161.89 481.64L163.56 479.70L165.23 477.90L166.90 476.20L168.57 474.59L170.24 473.04L171.91 471.54L173.58 470.09L175.25 468.68L176.92 467.31L178.59 465.96L180.26 464.63L181.94 463.33L183.61 462.05L185.28 460.78L186.95 459.53L188.62 458.29L190.29 457.06L191.96 455.84L193.63 454.64L195.30 453.44L196.97 452.24L198.64 451.06L200.31 449.88L201.98 448.71L203.65 447.54L205.32 446.38L206.99 445.22L208.66 444.07L210.33 442.92L212.00 441.77L213.67 440.63L215.35 439.48L217.02 438.34L218.69 437.21L220.36 436.07L222.03 434.94L223.70 433.80L225.37 432.67L227.04 431.54L228.71 430.41L230.38 429.28L232.05 428.15L233.72 427.02L235.39 425.89L237.06 424.76L238.73 423.63L240.40 422.50L242.07 421.36L243.74 420.23L245.41 419.09L247.08 417.96L248.76 416.82L250.43 415.67L252.10 414.53L253.77 413.38L255.44 412.23L257.11 411.08L258.78 409.92L260.45 408.76L262.12 407.59L263.79 406.42L265.46 405.24L267.13 404.06L268.80 402.86L270.47 401.66L272.14 400.46L273.81 399.24L275.48 398.01L277.15 396.77L278.82 395.52L280.49 394.25L282.17 392.97L283.84 391.67L285.51 390.34L287.18 388.99L288.85 387.62L290.52 386.21L292.19 384.76L293.86 383.26L295.53 381.71L297.20 380.10L298.87 378.40L300.54 376.60L302.21 374.66L303.88 372.54L305.55 370.17L307.22 367.43L308.89 364.12L310.56 359.81L312.23 353.51L313.90 342.28" stroke="#0000ff" stroke-width="2"/>
</g>
<rect x="65.00" y="332.40" width="334.10" height="191.50" fill="none" stroke="#1a1a1a" stroke-width="1"/>
<text x="57.45" y="335.40" font-size="11.4" letter-spacing="0.25" text-anchor="end" fill="#111">10</text>
<text x="57.45" y="354.55" font-size="11.4" letter-spacing="0.25" text-anchor="end" fill="#111">8</text>
<text x="57.45" y="373.70" font-size="11.4" letter-spacing="0.25" text-anchor="end" fill="#111">6</text>
<text x="57.45" y="392.85" font-size="11.4" letter-spacing="0.25" text-anchor="end" fill="#111">4</text>
<text x="57.45" y="412.00" font-size="11.4" letter-spacing="0.25" text-anchor="end" fill="#111">2</text>
<text x="57.45" y="431.15" font-size="11.4" letter-spacing="0.25" text-anchor="end" fill="#111">0</text>
<text x="57.45" y="450.30" font-size="11.4" letter-spacing="0.25" text-anchor="end" fill="#111">2</text>
<path d="M50.50 447.30h-7.2" stroke="#222" stroke-width="0.8" fill="none"/>
<text x="57.45" y="469.45" font-size="11.4" letter-spacing="0.25" text-anchor="end" fill="#111">4</text>
<path d="M50.50 466.45h-7.2" stroke="#222" stroke-width="0.8" fill="none"/>
<text x="57.45" y="488.60" font-size="11.4" letter-spacing="0.25" text-anchor="end" fill="#111">6</text>
<path d="M50.50 485.60h-7.2" stroke="#222" stroke-width="0.8" fill="none"/>
<text x="57.45" y="507.75" font-size="11.4" letter-spacing="0.25" text-anchor="end" fill="#111">8</text>
<path d="M50.50 504.75h-7.2" stroke="#222" stroke-width="0.8" fill="none"/>
<text x="57.45" y="526.90" font-size="11.4" letter-spacing="0.25" text-anchor="end" fill="#111">10</text>
<path d="M44.55 523.90h-7.2" stroke="#222" stroke-width="0.8" fill="none"/>
<text x="65.12" y="539.30" font-size="11.4" letter-spacing="0.25" text-anchor="middle" fill="#111">0</text>
<text x="148.65" y="539.30" font-size="11.4" letter-spacing="0.25" text-anchor="middle" fill="#111">0.5</text>
<text x="232.18" y="539.30" font-size="11.4" letter-spacing="0.25" text-anchor="middle" fill="#111">1</text>
<text x="315.70" y="539.30" font-size="11.4" letter-spacing="0.25" text-anchor="middle" fill="#111">1.5</text>
<text x="399.23" y="539.30" font-size="11.4" letter-spacing="0.25" text-anchor="middle" fill="#111">2</text>
<text transform="translate(232.05 558.00) scale(1.16 1)" font-size="16.8" font-style="italic" text-anchor="middle" fill="#111">n</text>
<text transform="translate(24.30 428.15) rotate(-90)" font-size="16.6" text-anchor="middle" fill="#111" letter-spacing="0.6">Potential</text>
<text x="185.00" y="315.70" font-size="17" font-style="italic" fill="#111">U</text>
<path d="M203.20 309.20h11M203.20 313.20h11" stroke="#222" stroke-width="0.8" fill="none"/>
<text x="219.80" y="315.70" font-size="17" fill="#111">5,</text>
<text x="237.80" y="315.70" font-size="17" font-style="italic" fill="#111">t</text>
<path d="M248.50 309.20h11M248.50 313.20h11" stroke="#222" stroke-width="0.8" fill="none"/>
<text x="269.00" y="308.80" font-size="11.5" text-anchor="middle" fill="#111">1</text>
<text x="269.00" y="321.70" font-size="11.5" text-anchor="middle" fill="#111">2</text>
<path d="M265.70 310.40h6.6" stroke="#111" stroke-width="0.7"/>
</g>
<g>
<path d="M476.20 355.50H813.40M476.20 381.50H813.40M476.20 407.50H813.40M476.20 433.50H813.40M476.20 460.50H813.40M476.20 486.50H813.40M476.20 512.50H813.40" stroke="#b0b0b0" stroke-width="0.9" stroke-dasharray="1 1.3" fill="none"/>
<path d="M560.50 329.00V538.70M644.80 329.00V538.70M729.10 329.00V538.70" stroke="#bcbcbc" stroke-width="0.9" stroke-dasharray="1 1.3" fill="none"/>
<path d="M476.20 355.50h4.2M813.40 355.50h-4.2M476.20 381.50h4.2M813.40 381.50h-4.2M476.20 407.50h4.2M813.40 407.50h-4.2M476.20 433.50h4.2M813.40 433.50h-4.2M476.20 460.50h4.2M813.40 460.50h-4.2M476.20 486.50h4.2M813.40 486.50h-4.2M476.20 512.50h4.2M813.40 512.50h-4.2M560.50 329.00v4.2M560.50 538.70v-4.2M644.80 329.00v4.2M644.80 538.70v-4.2M729.10 329.00v4.2M729.10 538.70v-4.2" stroke="#222" stroke-width="0.9" fill="none"/>
<clipPath id="c4"><rect x="476.20" y="328.00" width="337.20" height="211.70"/></clipPath>
<g clip-path="url(#c4)" fill="none" stroke-linejoin="round">
<path d="M477.89 485.75L811.71 381.95" stroke="#ff0000" stroke-width="1.75" stroke-dasharray="3.1 3.9"/>
<path d="M528.47 498.81L758.10 370.58" stroke="#00ff00" stroke-width="1.75" stroke-dasharray="3.1 3.9"/>
<path d="M562.19 536.60L727.41 331.10" stroke="#0000ff" stroke-width="1.75" stroke-dasharray="3.1 3.9"/>
<path d="M477.89 485.41L479.57 484.47L481.26 483.51L482.94 482.54L484.63 481.56L486.32 480.58L488.00 479.59L489.69 478.60L491.37 477.60L493.06 476.61L494.75 475.61L496.43 474.61L498.12 473.62L499.80 472.62L501.49 471.62L503.18 470.61L504.86 469.61L506.55 468.61L508.23 467.61L509.92 466.61L511.61 465.61L513.29 464.60L514.98 463.60L516.66 462.60L518.35 461.60L520.04 460.60L521.72 459.59L523.41 458.59L525.09 457.59L526.78 456.59L528.47 455.59L530.15 454.59L531.84 453.59L533.52 452.60L535.21 451.60L536.90 450.60L538.58 449.60L540.27 448.61L541.95 447.61L543.64 446.62L545.33 445.63L547.01 444.63L548.70 443.64L550.38 442.65L552.07 441.66L553.76 440.68L555.44 439.69L557.13 438.70L558.81 437.72L560.50 436.74L562.19 435.76L563.87 434.78L565.56 433.80L567.24 432.83L568.93 431.85L570.62 430.88L572.30 429.91L573.99 428.95L575.67 427.98L577.36 427.02L579.05 426.06L580.73 425.11L582.42 424.16L584.10 423.21L585.79 422.26L587.48 421.32L589.16 420.39L590.85 419.46L592.53 418.53L594.22 417.61L595.91 416.70L597.59 415.79L599.28 414.89L600.96 413.99L602.65 413.11L604.34 412.24L606.02 411.37L607.71 410.52L609.39 409.68L611.08 408.85L612.77 408.04L614.45 407.25L616.14 406.48L617.82 405.74L619.51 405.02L621.20 404.34L622.88 403.69L624.57 403.09L626.25 402.55L627.94 402.08L629.63 401.70L631.31 401.43L633.00 401.31L634.68 401.40L634.85 401.43L635.02 401.45L635.19 401.48L635.36 401.52L635.53 401.55L635.70 401.59L635.86 401.64L636.03 401.69L636.20 401.74L636.37 401.80L636.54 401.86L636.71 401.93L636.88 402.00L637.04 402.07L637.21 402.16L637.38 402.25L637.55 402.34L637.72 402.44L637.89 402.55L638.06 402.66L638.22 402.79L638.39 402.92L638.56 403.06L638.73 403.21L638.90 403.37L639.07 403.54L639.24 403.72L639.40 403.91L639.57 404.11L639.74 404.33L639.91 404.57L640.08 404.82L640.25 405.09L640.42 405.37L640.59 405.68L640.75 406.01L640.92 406.36L641.09 406.74L641.26 407.15L641.43 407.58L641.60 408.06L641.77 408.57L641.93 409.13L642.10 409.74L642.27 410.40L642.44 411.12L642.61 411.91L642.78 412.78L642.95 413.73L643.11 414.79L643.28 415.96L643.45 417.27L643.62 418.72L643.79 420.34L643.96 422.15L644.13 424.15L644.29 426.35L644.46 428.72L644.63 431.25L644.80 433.85L644.97 436.45L645.14 438.98L645.31 441.35L645.47 443.55L645.64 445.55L645.81 447.36L645.98 448.98L646.15 450.43L646.32 451.74L646.49 452.91L646.65 453.97L646.82 454.92L646.99 455.79L647.16 456.58L647.33 457.30L647.50 457.96L647.67 458.57L647.83 459.13L648.00 459.64L648.17 460.12L648.34 460.55L648.51 460.96L648.68 461.34L648.85 461.69L649.01 462.02L649.18 462.33L649.35 462.61L649.52 462.88L649.69 463.13L649.86 463.37L650.03 463.59L650.20 463.79L650.36 463.98L650.53 464.16L650.70 464.33L650.87 464.49L651.04 464.64L651.21 464.78L651.38 464.91L651.54 465.04L651.71 465.15L651.88 465.26L652.05 465.36L652.22 465.45L652.39 465.54L652.56 465.63L652.72 465.70L652.89 465.77L653.06 465.84L653.23 465.90L653.40 465.96L653.57 466.01L653.74 466.06L653.90 466.11L654.07 466.15L654.24 466.18L654.41 466.22L654.58 466.25L654.75 466.27L654.92 466.30L656.60 466.39L658.29 466.27L659.97 466.00L661.66 465.62L663.35 465.15L665.03 464.61L666.72 464.01L668.40 463.36L670.09 462.68L671.78 461.96L673.46 461.22L675.15 460.45L676.83 459.66L678.52 458.85L680.21 458.02L681.89 457.18L683.58 456.33L685.26 455.46L686.95 454.59L688.64 453.71L690.32 452.81L692.01 451.91L693.69 451.00L695.38 450.09L697.07 449.17L698.75 448.24L700.44 447.31L702.12 446.38L703.81 445.44L705.50 444.49L707.18 443.54L708.87 442.59L710.55 441.64L712.24 440.68L713.93 439.72L715.61 438.75L717.30 437.79L718.98 436.82L720.67 435.85L722.36 434.87L724.04 433.90L725.73 432.92L727.41 431.94L729.10 430.96L730.79 429.98L732.47 429.00L734.16 428.01L735.84 427.02L737.53 426.04L739.22 425.05L740.90 424.06L742.59 423.07L744.27 422.07L745.96 421.08L747.65 420.09L749.33 419.09L751.02 418.10L752.70 417.10L754.39 416.10L756.08 415.10L757.76 414.11L759.45 413.11L761.13 412.11L762.82 411.11L764.51 410.11L766.19 409.11L767.88 408.11L769.56 407.10L771.25 406.10L772.94 405.10L774.62 404.10L776.31 403.10L777.99 402.09L779.68 401.09L781.37 400.09L783.05 399.09L784.74 398.09L786.42 397.09L788.11 396.08L789.80 395.08L791.48 394.08L793.17 393.09L794.85 392.09L796.54 391.09L798.23 390.10L799.91 389.10L801.60 388.11L803.28 387.12L804.97 386.14L806.66 385.16L808.34 384.19L810.03 383.23L811.71 382.29" stroke="#ff0000" stroke-width="2"/>
<path d="M528.47 461.48L530.15 458.63L531.84 456.84L533.52 455.40L535.21 454.12L536.90 452.94L538.58 451.81L540.27 450.72L541.95 449.66L543.64 448.63L545.33 447.61L547.01 446.61L548.70 445.63L550.38 444.65L552.07 443.69L553.76 442.74L555.44 441.80L557.13 440.87L558.81 439.95L560.50 439.05L562.19 438.16L563.87 437.28L565.56 436.42L567.24 435.58L568.93 434.76L570.62 433.96L572.30 433.19L573.99 432.46L575.67 431.76L577.36 431.11L579.05 430.52L580.73 430.02L582.42 429.61L584.10 429.35L584.27 429.33L584.44 429.32L584.61 429.30L584.78 429.29L584.95 429.29L585.12 429.28L585.28 429.28L585.45 429.28L585.62 429.28L585.79 429.29L585.96 429.30L586.13 429.31L586.30 429.33L586.46 429.35L586.63 429.37L586.80 429.40L586.97 429.43L587.14 429.47L587.31 429.51L587.48 429.56L587.64 429.61L587.81 429.66L587.98 429.73L588.15 429.80L588.32 429.87L588.49 429.96L588.66 430.05L588.82 430.15L588.99 430.26L589.16 430.38L589.33 430.51L589.50 430.65L589.67 430.80L589.84 430.97L590.00 431.15L590.17 431.34L590.34 431.56L590.51 431.79L590.68 432.05L590.85 432.33L591.02 432.63L591.19 432.97L591.35 433.34L591.52 433.75L591.69 434.20L591.86 434.70L592.03 435.26L592.20 435.89L592.37 436.61L592.53 437.41L592.70 438.34L592.87 439.40L593.04 440.65L593.21 442.12L593.38 443.87L593.55 445.99L593.71 448.57L593.88 451.72L594.05 455.50L594.22 459.63L594.39 462.98L594.56 464.57L594.73 465.19L594.89 465.48L595.06 465.61L595.23 465.67L595.40 465.68L595.57 465.67L595.74 465.64L595.91 465.59L596.07 465.53L596.24 465.47L596.41 465.40L596.58 465.32L596.75 465.24L596.92 465.15L597.09 465.07L597.25 464.98L597.42 464.89L597.59 464.79L597.76 464.70L597.93 464.60L598.10 464.51L598.27 464.41L598.43 464.31L598.60 464.21L598.77 464.11L598.94 464.00L599.11 463.90L599.28 463.80L599.45 463.70L599.62 463.59L599.78 463.49L599.95 463.38L600.12 463.28L600.29 463.17L600.46 463.07L600.63 462.96L600.80 462.85L600.96 462.75L601.13 462.64L601.30 462.53L601.47 462.42L601.64 462.32L601.81 462.21L601.98 462.10L602.14 461.99L602.31 461.88L602.48 461.78L602.65 461.67L602.82 461.56L602.99 461.45L603.16 461.34L603.32 461.23L603.49 461.12L603.66 461.01L603.83 460.90L604.00 460.79L604.17 460.68L604.34 460.58L606.02 459.47L607.71 458.37L609.39 457.26L611.08 456.15L612.77 455.03L614.45 453.92L616.14 452.81L617.82 451.69L619.51 450.58L621.20 449.46L622.88 448.35L624.57 447.23L626.25 446.11L627.94 445.00L629.63 443.88L631.31 442.77L633.00 441.65L634.68 440.54L636.37 439.42L638.06 438.31L639.74 437.19L641.43 436.08L643.11 434.96L644.80 433.85L646.49 432.74L648.17 431.62L649.86 430.51L651.54 429.39L653.23 428.28L654.92 427.16L656.60 426.05L658.29 424.93L659.97 423.82L661.66 422.70L663.35 421.59L665.03 420.47L666.72 419.35L668.40 418.24L670.09 417.12L671.78 416.01L673.46 414.89L675.15 413.78L676.83 412.67L678.52 411.55L680.21 410.44L681.89 409.33L683.58 408.23L685.26 407.12L685.43 407.02L685.60 406.91L685.77 406.80L685.94 406.69L686.11 406.58L686.28 406.47L686.44 406.36L686.61 406.25L686.78 406.14L686.95 406.03L687.12 405.92L687.29 405.82L687.46 405.71L687.62 405.60L687.79 405.49L687.96 405.38L688.13 405.28L688.30 405.17L688.47 405.06L688.64 404.95L688.80 404.85L688.97 404.74L689.14 404.63L689.31 404.53L689.48 404.42L689.65 404.32L689.82 404.21L689.98 404.11L690.15 404.00L690.32 403.90L690.49 403.80L690.66 403.70L690.83 403.59L691.00 403.49L691.16 403.39L691.33 403.29L691.50 403.19L691.67 403.10L691.84 403.00L692.01 402.91L692.18 402.81L692.35 402.72L692.51 402.63L692.68 402.55L692.85 402.46L693.02 402.38L693.19 402.30L693.36 402.23L693.53 402.17L693.69 402.11L693.86 402.06L694.03 402.03L694.20 402.02L694.37 402.03L694.54 402.09L694.71 402.22L694.87 402.51L695.04 403.13L695.21 404.72L695.38 408.07L695.55 412.20L695.72 415.98L695.89 419.13L696.05 421.71L696.22 423.83L696.39 425.58L696.56 427.05L696.73 428.30L696.90 429.36L697.07 430.29L697.23 431.09L697.40 431.81L697.57 432.44L697.74 433.00L697.91 433.50L698.08 433.95L698.25 434.36L698.41 434.73L698.58 435.07L698.75 435.37L698.92 435.65L699.09 435.91L699.26 436.14L699.43 436.36L699.60 436.55L699.76 436.73L699.93 436.90L700.10 437.05L700.27 437.19L700.44 437.32L700.61 437.44L700.78 437.55L700.94 437.65L701.11 437.74L701.28 437.83L701.45 437.90L701.62 437.97L701.79 438.04L701.96 438.09L702.12 438.14L702.29 438.19L702.46 438.23L702.63 438.27L702.80 438.30L702.97 438.33L703.14 438.35L703.30 438.37L703.47 438.39L703.64 438.40L703.81 438.41L703.98 438.42L704.15 438.42L704.32 438.42L704.48 438.42L704.65 438.41L704.82 438.41L704.99 438.40L705.16 438.38L705.33 438.37L705.50 438.35L707.18 438.09L708.87 437.68L710.55 437.18L712.24 436.59L713.93 435.94L715.61 435.24L717.30 434.51L718.98 433.74L720.67 432.94L722.36 432.12L724.04 431.28L725.73 430.42L727.41 429.54L729.10 428.65L730.79 427.75L732.47 426.83L734.16 425.90L735.84 424.96L737.53 424.01L739.22 423.05L740.90 422.07L742.59 421.09L744.27 420.09L745.96 419.07L747.65 418.04L749.33 416.98L751.02 415.89L752.70 414.76L754.39 413.58L756.08 412.30L757.76 410.86L759.45 409.07L761.13 406.22" stroke="#00ff00" stroke-width="2"/>
<path d="M562.19 509.58L563.87 501.20L565.56 496.82L567.24 493.76L568.93 491.30L570.62 489.20L572.30 487.32L573.99 485.59L575.67 483.97L577.36 482.43L579.05 480.95L580.73 479.51L582.42 478.12L584.10 476.76L585.79 475.43L587.48 474.12L589.16 472.83L590.85 471.55L592.53 470.29L594.22 469.04L595.91 467.80L597.59 466.57L599.28 465.35L600.96 464.14L602.65 462.94L604.34 461.74L606.02 460.55L607.71 459.36L609.39 458.17L611.08 456.99L612.77 455.82L614.45 454.64L616.14 453.48L617.82 452.31L619.51 451.14L621.20 449.98L622.88 448.82L624.57 447.66L626.25 446.51L627.94 445.35L629.63 444.20L631.31 443.05L633.00 441.89L634.68 440.74L636.37 439.59L638.06 438.44L639.74 437.29L641.43 436.15L643.11 435.00L644.80 433.85L646.49 432.70L648.17 431.55L649.86 430.41L651.54 429.26L653.23 428.11L654.92 426.96L656.60 425.81L658.29 424.65L659.97 423.50L661.66 422.35L663.35 421.19L665.03 420.04L666.72 418.88L668.40 417.72L670.09 416.56L671.78 415.39L673.46 414.22L675.15 413.06L676.83 411.88L678.52 410.71L680.21 409.53L681.89 408.34L683.58 407.15L685.26 405.96L686.95 404.76L688.64 403.56L690.32 402.35L692.01 401.13L693.69 399.90L695.38 398.66L697.07 397.41L698.75 396.15L700.44 394.87L702.12 393.58L703.81 392.27L705.50 390.94L707.18 389.58L708.87 388.19L710.55 386.75L712.24 385.27L713.93 383.73L715.61 382.11L717.30 380.38L718.98 378.50L720.67 376.40L722.36 373.94L724.04 370.88L725.73 366.50L727.41 358.12" stroke="#0000ff" stroke-width="2"/>
</g>
<rect x="476.20" y="329.00" width="337.20" height="209.70" fill="none" stroke="#1a1a1a" stroke-width="1"/>
<text x="468.65" y="332.00" font-size="11.4" letter-spacing="0.25" text-anchor="end" fill="#111">20</text>
<text x="468.65" y="358.21" font-size="11.4" letter-spacing="0.25" text-anchor="end" fill="#111">15</text>
<text x="468.65" y="384.43" font-size="11.4" letter-spacing="0.25" text-anchor="end" fill="#111">10</text>
<text x="468.65" y="410.64" font-size="11.4" letter-spacing="0.25" text-anchor="end" fill="#111">5</text>
<text x="468.65" y="436.85" font-size="11.4" letter-spacing="0.25" text-anchor="end" fill="#111">0</text>
<text x="468.65" y="463.06" font-size="11.4" letter-spacing="0.25" text-anchor="end" fill="#111">5</text>
<path d="M461.70 460.06h-7.2" stroke="#222" stroke-width="0.8" fill="none"/>
<text x="468.65" y="489.28" font-size="11.4" letter-spacing="0.25" text-anchor="end" fill="#111">10</text>
<path d="M455.75 486.28h-7.2" stroke="#222" stroke-width="0.8" fill="none"/>
<text x="468.65" y="515.49" font-size="11.4" letter-spacing="0.25" text-anchor="end" fill="#111">15</text>
<path d="M455.75 512.49h-7.2" stroke="#222" stroke-width="0.8" fill="none"/>
<text x="468.65" y="541.70" font-size="11.4" letter-spacing="0.25" text-anchor="end" fill="#111">20</text>
<path d="M455.75 538.70h-7.2" stroke="#222" stroke-width="0.8" fill="none"/>
<text x="476.32" y="554.50" font-size="11.4" letter-spacing="0.25" text-anchor="middle" fill="#111">0</text>
<text x="560.62" y="554.50" font-size="11.4" letter-spacing="0.25" text-anchor="middle" fill="#111">0.5</text>
<text x="644.92" y="554.50" font-size="11.4" letter-spacing="0.25" text-anchor="middle" fill="#111">1</text>
<text x="729.22" y="554.50" font-size="11.4" letter-spacing="0.25" text-anchor="middle" fill="#111">1.5</text>
<text x="813.52" y="554.50" font-size="11.4" letter-spacing="0.25" text-anchor="middle" fill="#111">2</text>
<text transform="translate(644.80 573.80) scale(1.16 1)" font-size="16.8" font-style="italic" text-anchor="middle" fill="#111">n</text>
<text transform="translate(434.70 433.85) rotate(-90)" font-size="16.6" text-anchor="middle" fill="#111" letter-spacing="0.6">Potential</text>
<text x="595.60" y="312.60" font-size="17" font-style="italic" fill="#111">U</text>
<path d="M614.10 306.10h11M614.10 310.10h11" stroke="#222" stroke-width="0.8" fill="none"/>
<text x="630.40" y="312.60" font-size="17" fill="#111">10,</text>
<text x="657.20" y="312.60" font-size="17" font-style="italic" fill="#111">t</text>
<path d="M667.90 306.10h11M667.90 310.10h11" stroke="#222" stroke-width="0.8" fill="none"/>
<text x="688.70" y="305.70" font-size="11.5" text-anchor="middle" fill="#111">1</text>
<text x="688.70" y="318.60" font-size="11.5" text-anchor="middle" fill="#111">2</text>
<path d="M685.40 307.30h6.6" stroke="#111" stroke-width="0.7"/>
</g>
<text x="83.90" y="572.40" font-size="17" font-style="italic" fill="#111">w</text>
<path d="M101.20 566.20h11M101.20 570.20h11" stroke="#222" stroke-width="0.8" fill="none"/>
<text x="117.50" y="572.40" font-size="17" fill="#111">0</text>
<path d="M132.50 568.7H166.30" stroke="#ff0000" stroke-width="2"/>
<text x="180.60" y="572.40" font-size="17" font-style="italic" fill="#111">w</text>
<path d="M197.90 566.20h11M197.90 570.20h11" stroke="#222" stroke-width="0.8" fill="none"/>
<text x="214.00" y="572.40" font-size="17" fill="#111">0.3</text>
<path d="M241.50 568.7H275.10" stroke="#00ff00" stroke-width="2"/>
<text x="289.40" y="572.40" font-size="17" font-style="italic" fill="#111">w</text>
<path d="M306.70 566.20h11M306.70 570.20h11" stroke="#222" stroke-width="0.8" fill="none"/>
<text x="322.80" y="572.40" font-size="17" fill="#111">0.5</text>
<path d="M350.90 568.7H384.90" stroke="#0000ff" stroke-width="2"/>
</svg>
</body></html>
